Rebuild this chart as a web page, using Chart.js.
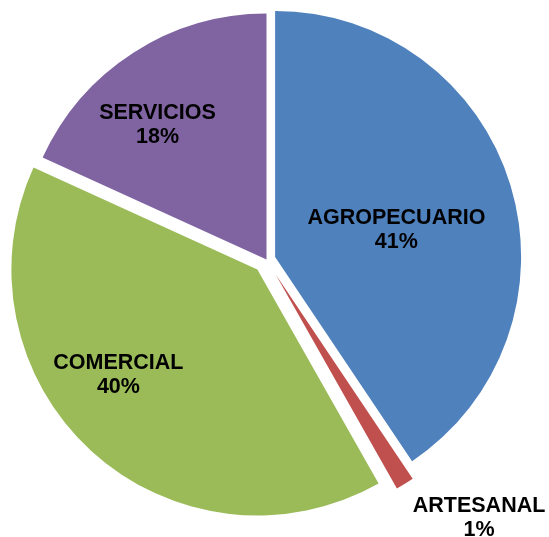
<!DOCTYPE html>
<html>
<head>
<meta charset="utf-8">
<script src="https://cdn.jsdelivr.net/npm/chart.js@4.4.1/dist/chart.umd.min.js"></script>
<style>
  html, body { margin: 0; padding: 0; background: #fff; }
  #wrap { width: 549px; height: 537px; }
</style>
</head>
<body>
<div id="wrap"><canvas id="pieChart"></canvas></div>
<script>
const categories = ["AGROPECUARIO", "ARTESANAL", "COMERCIAL", "SERVICIOS"];
const shares = [40.6, 1.2, 40.0, 18.2];
const sliceColors = ["#4F81BD", "#C0504D", "#9BBB59", "#8064A2"];
// how far each slice is pulled out of the pie (px)
const explode = [9, 17.5, 13.5, 0];
// label block centres, in units of the pie radius from the pie centre
const labelPosX = [0.528, 0.864, -0.602, -0.443];
const labelPosY = [-0.128, 1.043, 0.465, -0.551];

// draw the arcs ourselves so every slice can be pulled out by its own amount
const explodedSlices = {
    id: "explodedSlices",
    beforeDatasetDraw(chart, args) {
        const ctx = chart.ctx;
        args.meta.data.forEach(function (arc, i) {
            const mid = (arc.startAngle + arc.endAngle) / 2;
            const d = explode[i] || 0;
            ctx.save();
            ctx.translate(Math.cos(mid) * d, Math.sin(mid) * d);
            arc.draw(ctx, chart.chartArea);
            ctx.restore();
        });
        return false;
    }
};

const pieLabels = {
    id: "pieLabels",
    afterDatasetsDraw(chart) {
        const ctx = chart.ctx;
        const meta = chart.getDatasetMeta(0);
        const area = chart.chartArea;
        const cx = (area.left + area.right) / 2;
        const cy = (area.top + area.bottom) / 2;
        const r = meta.controller.outerRadius;
        const total = shares.reduce((a, b) => a + b, 0);
        ctx.save();
        ctx.fillStyle = "#000";
        ctx.font = "bold 21.5px 'Liberation Sans', Arial, sans-serif";
        ctx.textAlign = "center";
        ctx.textBaseline = "alphabetic";
        categories.forEach(function (name, i) {
            const x = cx + labelPosX[i] * r;
            const y = cy + labelPosY[i] * r;
            const pct = Math.round(shares[i] / total * 100);
            ctx.fillText(name, x, y - 4.5);
            ctx.fillText(pct + "%", x, y + 19.5);
        });
        ctx.restore();
    }
};

new Chart(document.getElementById("pieChart"), {
    type: "pie",
    data: {
        labels: categories,
        datasets: [{
            data: shares,
            backgroundColor: sliceColors,
            borderWidth: 0,
            radius: 246
        }]
    },
    options: {
        responsive: true,
        maintainAspectRatio: false,
        animation: false,
        layout: { padding: { left: 0, top: 0, right: 16, bottom: 18 } },
        plugins: {
            legend: { display: false },
            tooltip: { enabled: false }
        }
    },
    plugins: [explodedSlices, pieLabels]
});
</script>
</body>
</html>
